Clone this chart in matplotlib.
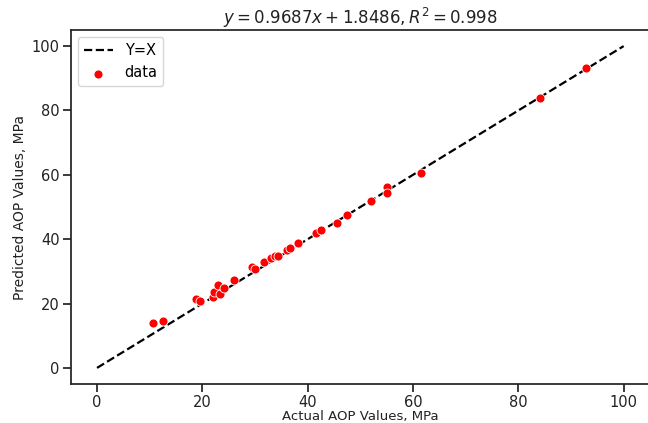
import matplotlib
matplotlib.use("Agg")
import matplotlib.pyplot as plt
import numpy as np

actual = [10.7, 12.5, 18.8, 19.5, 22.1, 22.3, 22.9, 23.4, 24.1, 26.1,
          29.4, 30.0, 31.7, 33.1, 33.8, 34.4, 36.0, 36.6, 38.2, 41.6,
          42.5, 45.5, 47.5, 52.1, 55.0, 55.0, 61.5, 84.1, 92.9]
predicted = [14.1, 14.6, 21.5, 20.8, 22.1, 23.5, 25.8, 23.1, 24.7, 27.3,
             31.3, 30.8, 32.8, 34.2, 34.7, 34.7, 36.7, 37.4, 38.8, 41.9,
             42.9, 45.0, 47.4, 51.9, 56.1, 54.2, 60.7, 84.0, 93.1]
line_x = [0, 100]
line_y = [0, 100]
xticks = [0, 20, 40, 60, 80, 100]
yticks = [0, 20, 40, 60, 80, 100]

fig = plt.figure(figsize=(6.48, 4.23), dpi=100)
ax = fig.add_axes([70.7/648, 39/423, (650-70.7)/648, 354/423])

ax.plot(line_x, line_y, '--', color='black', lw=1.6, label='Y=X')
ax.scatter(actual, predicted, s=42, color='red', edgecolors='white', linewidths=0.6, label='data', zorder=3)

ax.set_xlim(-5, 105)
ax.set_ylim(-5, 105)
ax.set_xticks(xticks)
ax.set_yticks(yticks)
ax.tick_params(axis='both', labelsize=10.5, length=6, width=1.25, color='#222222', labelcolor='#222222', pad=2)
for sp in ax.spines.values():
    sp.set_linewidth(1.25)
    sp.set_color('#222222')

ax.set_xlabel('Actual AOP Values, MPa', fontsize=9.5, color='#222222', labelpad=0)
ax.set_ylabel('Predicted AOP Values, MPa', fontsize=10, color='#222222', labelpad=3)
ax.set_title(r'$y = 0.9687x + 1.8486, R^2 = 0.998$', fontsize=12, color='#222222', pad=4)
ax.legend(loc='upper left', fontsize=10.5, frameon=True)

fig.savefig('out.png', dpi=100)
